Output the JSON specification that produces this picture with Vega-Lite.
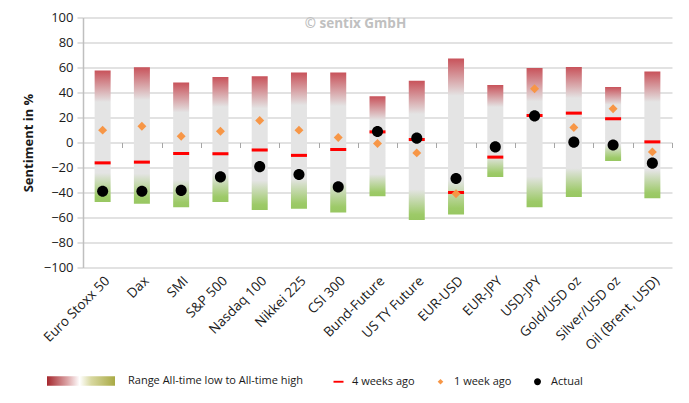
{
  "$schema": "https://vega.github.io/schema/vega-lite/v6.json",
  "autosize": {"type": "none"},
  "width": 589,
  "height": 250,
  "padding": {"left": 83, "top": 17.5, "right": 17, "bottom": 135.5},
  "background": "#ffffff",
  "config": {
    "font": "Open Sans",
    "view": {"stroke": null},
    "axis": {"labelColor": "#1a1a1a", "titleColor": "#1a1a1a", "labelFont": "Open Sans", "titleFont": "Open Sans"},
    "axisY": {
      "title": "Sentiment in %", "titleFontSize": 13, "titleFontWeight": "bold", "titlePadding": 8,
      "values": [-100, -80, -60, -40, -20, 0, 20, 40, 60, 80, 100], "labelOverlap": false,
      "grid": true, "gridColor": "#d9d9d9", "gridWidth": 1.5,
      "domainColor": "#bfbfbf", "domainWidth": 1.5, "tickColor": "#bfbfbf", "tickSize": 6,
      "labelFontSize": 13, "labelPadding": 4
    },
    "legend": {"labelFont": "Open Sans", "labelColor": "#1a1a1a", "labelLimit": 0}
  },
  "title": {
    "text": "© sentix GmbH",
    "frame": "group",
    "anchor": "middle",
    "offset": -19,
    "dx": -22,
    "fontSize": 13.5,
    "fontWeight": "bold",
    "color": "#c0c0c0",
    "font": "Open Sans"
  },
  "datasets": {
    "ranges": [
      {"instrument": "Euro Stoxx 50", "low": -47.5, "high": 57.6},
      {"instrument": "Dax", "low": -49, "high": 60.3},
      {"instrument": "SMI", "low": -51.7, "high": 48},
      {"instrument": "S&P 500", "low": -47.5, "high": 52.5},
      {"instrument": "Nasdaq 100", "low": -54, "high": 53},
      {"instrument": "Nikkei 225", "low": -53, "high": 56},
      {"instrument": "CSI 300", "low": -56, "high": 56},
      {"instrument": "Bund-Future", "low": -43, "high": 37},
      {"instrument": "US TY Future", "low": -62, "high": 49.5},
      {"instrument": "EUR-USD", "low": -57.5, "high": 67.3},
      {"instrument": "EUR-JPY", "low": -27.5, "high": 46},
      {"instrument": "USD-JPY", "low": -51.7, "high": 59.7},
      {"instrument": "Gold/USD oz", "low": -43.5, "high": 60.5},
      {"instrument": "Silver/USD oz", "low": -14.7, "high": 44.5},
      {"instrument": "Oil (Brent, USD)", "low": -44.5, "high": 56.8}
    ],
    "points": [
      {"instrument": "Euro Stoxx 50", "series": "4 weeks ago", "value": -16.3},
      {"instrument": "Dax", "series": "4 weeks ago", "value": -15.7},
      {"instrument": "SMI", "series": "4 weeks ago", "value": -8.8},
      {"instrument": "S&P 500", "series": "4 weeks ago", "value": -9},
      {"instrument": "Nasdaq 100", "series": "4 weeks ago", "value": -6},
      {"instrument": "Nikkei 225", "series": "4 weeks ago", "value": -10.3},
      {"instrument": "CSI 300", "series": "4 weeks ago", "value": -5.6},
      {"instrument": "Bund-Future", "series": "4 weeks ago", "value": 8.5},
      {"instrument": "US TY Future", "series": "4 weeks ago", "value": 2.4},
      {"instrument": "EUR-USD", "series": "4 weeks ago", "value": -40},
      {"instrument": "EUR-JPY", "series": "4 weeks ago", "value": -11.7},
      {"instrument": "USD-JPY", "series": "4 weeks ago", "value": 21.6},
      {"instrument": "Gold/USD oz", "series": "4 weeks ago", "value": 23.5},
      {"instrument": "Silver/USD oz", "series": "4 weeks ago", "value": 19},
      {"instrument": "Oil (Brent, USD)", "series": "4 weeks ago", "value": 0.5},
      {"instrument": "Euro Stoxx 50", "series": "1 week ago", "value": 9.9},
      {"instrument": "Dax", "series": "1 week ago", "value": 13},
      {"instrument": "SMI", "series": "1 week ago", "value": 5},
      {"instrument": "S&P 500", "series": "1 week ago", "value": 9},
      {"instrument": "Nasdaq 100", "series": "1 week ago", "value": 17.6},
      {"instrument": "Nikkei 225", "series": "1 week ago", "value": 9.9},
      {"instrument": "CSI 300", "series": "1 week ago", "value": 4},
      {"instrument": "Bund-Future", "series": "1 week ago", "value": -0.8},
      {"instrument": "US TY Future", "series": "1 week ago", "value": -8.3},
      {"instrument": "EUR-USD", "series": "1 week ago", "value": -41},
      {"instrument": "EUR-JPY", "series": "1 week ago", "value": -4},
      {"instrument": "USD-JPY", "series": "1 week ago", "value": 43},
      {"instrument": "Gold/USD oz", "series": "1 week ago", "value": 12},
      {"instrument": "Silver/USD oz", "series": "1 week ago", "value": 27},
      {"instrument": "Oil (Brent, USD)", "series": "1 week ago", "value": -7.5},
      {"instrument": "Euro Stoxx 50", "series": "Actual", "value": -39},
      {"instrument": "Dax", "series": "Actual", "value": -39},
      {"instrument": "SMI", "series": "Actual", "value": -38.3},
      {"instrument": "S&P 500", "series": "Actual", "value": -27.5},
      {"instrument": "Nasdaq 100", "series": "Actual", "value": -19.3},
      {"instrument": "Nikkei 225", "series": "Actual", "value": -25.6},
      {"instrument": "CSI 300", "series": "Actual", "value": -35.5},
      {"instrument": "Bund-Future", "series": "Actual", "value": 8.8},
      {"instrument": "US TY Future", "series": "Actual", "value": 3.5},
      {"instrument": "EUR-USD", "series": "Actual", "value": -28.8},
      {"instrument": "EUR-JPY", "series": "Actual", "value": -3.5},
      {"instrument": "USD-JPY", "series": "Actual", "value": 21.3},
      {"instrument": "Gold/USD oz", "series": "Actual", "value": 0.3},
      {"instrument": "Silver/USD oz", "series": "Actual", "value": -2},
      {"instrument": "Oil (Brent, USD)", "series": "Actual", "value": -16.5}
    ]
  },
  "layer": [
    {
      "data": {"name": "ranges"},
      "mark": {
        "type": "bar",
        "size": 16,
        "color": {
          "gradient": "linear", "x1": 0, "y1": 0, "x2": 0, "y2": 1,
          "stops": [
            {"offset": 0, "color": "#c8525a"},
            {"offset": 0.24, "color": "#e4e4e4"},
            {"offset": 0.78, "color": "#e4e4e4"},
            {"offset": 0.96, "color": "#9dca68"},
            {"offset": 1, "color": "#98c762"}
          ]
        }
      },
      "encoding": {
        "x": {
          "field": "instrument", "type": "nominal",
          "scale": {"domain": ["Euro Stoxx 50", "Dax", "SMI", "S&P 500", "Nasdaq 100", "Nikkei 225", "CSI 300", "Bund-Future", "US TY Future", "EUR-USD", "EUR-JPY", "USD-JPY", "Gold/USD oz", "Silver/USD oz", "Oil (Brent, USD)"], "paddingInner": 0, "paddingOuter": 0},
          "axis": {"orient": "bottom", "title": null, "labelAngle": -45, "ticks": false, "domain": false, "labelFontSize": 13.5, "labelPadding": 6, "grid": false}
        },
        "y": {
          "field": "low", "type": "quantitative",
          "scale": {"domain": [-100, 100], "nice": false, "zero": false},
          "axis": {"title": "Sentiment in %", "values": [-100, -80, -60, -40, -20, 0, 20, 40, 60, 80, 100], "labelOverlap": false}
        },
        "y2": {"field": "high"}
      }
    },
    {
      "data": {"name": "ranges"},
      "mark": {
        "type": "bar",
        "size": 16,
        "opacity": 0,
        "strokeWidth": 0,
        "color": {
          "gradient": "linear", "x1": 0, "y1": 0, "x2": 1, "y2": 0,
          "stops": [
            {"offset": 0, "color": "#a5282e"},
            {"offset": 0.3, "color": "#dca5a7"},
            {"offset": 0.48, "color": "#ffffff"},
            {"offset": 0.65, "color": "#d8d8a0"},
            {"offset": 1, "color": "#a9aa45"}
          ]
        }
      },
      "encoding": {
        "x": {"field": "instrument", "type": "nominal", "axis": null},
        "y": {"field": "low", "type": "quantitative", "axis": {"title": "Sentiment in %", "values": [-100, -80, -60, -40, -20, 0, 20, 40, 60, 80, 100], "labelOverlap": false}},
        "y2": {"field": "high"},
        "strokeDash": {
          "datum": "Range All-time low to All-time high", "type": "nominal",
          "scale": {"range": [[1, 0]]},
          "legend": {
            "orient": "none", "legendX": -36, "legendY": 329.5, "title": null, "padding": 0,
            "symbolType": "M-1,-0.14L1,-0.14L1,0.14L-1,0.14Z", "symbolOpacity": 1,
            "symbolSize": 4624, "symbolStrokeWidth": 0, "labelFontSize": 11, "labelOffset": 13, "labelLimit": 0
          }
        }
      }
    },
    {
      "data": {"name": "points"},
      "mark": {"type": "point", "filled": true, "size": 256, "opacity": 1, "strokeWidth": 0},
      "encoding": {
        "x": {
          "field": "instrument", "type": "nominal",
          "axis": {"orient": "bottom", "offset": -125, "title": null, "labels": false, "ticks": true, "tickBand": "extent", "tickSize": 5, "tickColor": "#a6a6a6", "domain": false, "grid": false}
        },
        "y": {"field": "value", "type": "quantitative", "axis": {"title": "Sentiment in %", "values": [-100, -80, -60, -40, -20, 0, 20, 40, 60, 80, 100], "labelOverlap": false}},
        "color": {
          "field": "series", "type": "nominal",
          "scale": {"domain": ["4 weeks ago", "1 week ago", "Actual"], "range": ["#ff0000", "#f79646", "#000000"]},
          "legend": {
            "orient": "none", "legendX": 250, "legendY": 358.5, "direction": "horizontal", "title": null, "padding": 0,
            "symbolSize": 100, "symbolStrokeWidth": 0, "labelFontSize": 11, "labelOffset": 8, "columnPadding": 20
          }
        },
        "shape": {
          "field": "series", "type": "nominal",
          "scale": {"domain": ["4 weeks ago", "1 week ago", "Actual"], "range": ["M-1,-0.19L1,-0.19L1,0.19L-1,0.19Z", "M0,-0.56L0.56,0L0,0.56L-0.56,0Z", "M-0.69,0A0.69,0.69,0,1,0,0.69,0A0.69,0.69,0,1,0,-0.69,0Z"]}
        }
      }
    }
  ],
  "resolve": {"axis": {"x": "independent"}}
}
